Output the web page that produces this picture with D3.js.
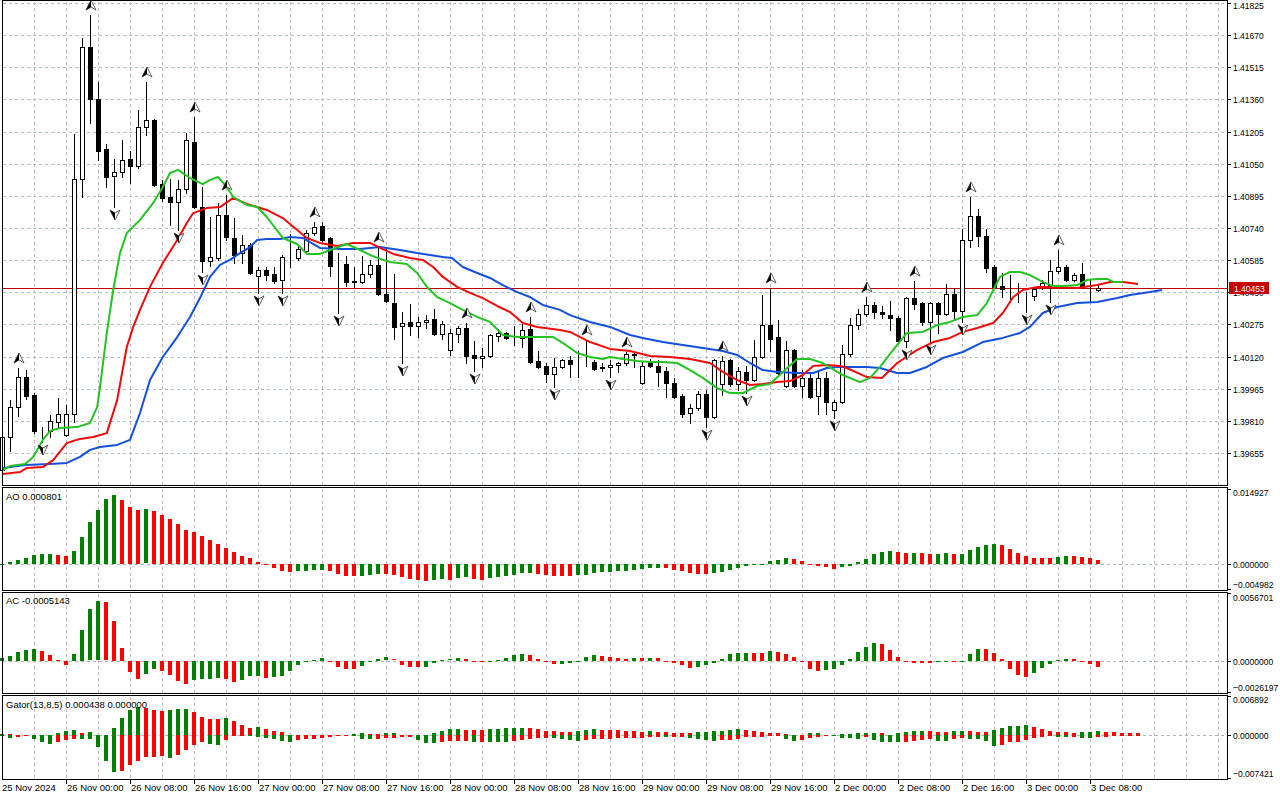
<!DOCTYPE html>
<html>
<head>
<meta charset="utf-8">
<script src="https://cdn.jsdelivr.net/npm/d3@7"></script>
<style>
  html, body { margin: 0; padding: 0; background: #fff; }
  svg { display: block; font-family: "Liberation Sans", Arial, sans-serif; }
</style>
</head>
<body>
<svg id="chart" width="1280" height="800"></svg>
<script>
/**
 * H1 candles with Alligator, fractals, AO, AC and Gator panels.
 * One bar per hour, 8px apart.
 */
const opens = [1.39573,1.39732,1.39877,1.40021,1.39935,1.39766,1.39761,1.39804,1.39742,1.39843,
  1.40976,1.41613,1.41362,1.41121,1.40991,1.41010,1.41073,1.41039,1.41227,1.41261,
  1.40952,1.40890,1.40865,1.40928,1.41155,1.40841,1.40581,1.40595,1.40803,1.40692,
  1.40619,1.40658,1.40509,1.40537,1.40518,1.40489,1.40600,1.40595,1.40629,1.40716,
  1.40750,1.40692,1.40562,1.40566,1.40484,1.40480,1.40518,1.40562,1.40422,1.40378,
  1.40267,1.40287,1.40267,1.40287,1.40301,1.40229,1.40152,1.40229,1.40258,1.40128,
  1.40113,1.40123,1.40219,1.40234,1.40219,1.40210,1.40253,1.40099,1.40075,1.40036,
  1.40070,1.40103,1.40089,1.40094,1.40094,1.40070,1.40070,1.40079,1.40089,1.40132,
  1.39993,1.40094,1.40075,1.40050,1.39993,1.39930,1.39848,1.39872,1.39940,1.39829,
  1.39988,1.40103,1.39988,1.40046,1.40007,1.40118,1.40272,1.40214,1.39978,1.40152,
  1.39978,1.40017,1.39930,1.40017,1.39862,1.39901,1.40132,1.40272,1.40325,1.40369,
  1.40335,1.40320,1.40306,1.40195,1.40402,1.40378,1.40287,1.40378,1.40325,1.40422,
  1.40340,1.40682,1.40798,1.40701,1.40552,1.40460,1.40451,1.40451,1.40383,1.40412,
  1.40456,1.40465,1.40533,1.40552,1.40489,1.40518,1.40456,1.40441];
const highs = [1.39732,1.39911,1.40065,1.40055,1.39944,1.39780,1.39838,1.39920,1.39886,1.41193,
  1.41656,1.41767,1.41444,1.41145,1.41073,1.41164,1.41111,1.41309,1.41444,1.41266,
  1.40972,1.40976,1.40972,1.41198,1.41275,1.40938,1.40793,1.40861,1.40899,1.40788,
  1.40706,1.40668,1.40552,1.40552,1.40552,1.40610,1.40711,1.40663,1.40730,1.40769,
  1.40769,1.40697,1.40619,1.40605,1.40552,1.40605,1.40586,1.40648,1.40644,1.40518,
  1.40335,1.40374,1.40311,1.40320,1.40349,1.40292,1.40253,1.40267,1.40282,1.40195,
  1.40161,1.40229,1.40253,1.40239,1.40267,1.40277,1.40311,1.40147,1.40089,1.40113,
  1.40108,1.40123,1.40147,1.40200,1.40103,1.40089,1.40103,1.40094,1.40142,1.40137,
  1.40094,1.40108,1.40103,1.40070,1.40017,1.39940,1.39891,1.39954,1.39959,1.40108,
  1.40123,1.40108,1.40070,1.40075,1.40200,1.40417,1.40451,1.40296,1.40195,1.40157,
  1.40055,1.40041,1.40055,1.40046,1.39911,1.40176,1.40306,1.40349,1.40407,1.40383,
  1.40364,1.40388,1.40316,1.40407,1.40484,1.40383,1.40383,1.40383,1.40470,1.40451,
  1.40735,1.40890,1.40832,1.40735,1.40562,1.40523,1.40513,1.40475,1.40431,1.40456,
  1.40489,1.40586,1.40634,1.40562,1.40523,1.40571,1.40489,1.40465];
const lows = [1.39534,1.39665,1.39833,1.39915,1.39751,1.39708,1.39732,1.39776,1.39737,1.39804,
  1.40890,1.41246,1.41068,1.40938,1.40841,1.40986,1.40957,1.41029,1.41188,1.40943,
  1.40870,1.40754,1.40730,1.40909,1.40836,1.40528,1.40557,1.40586,1.40682,1.40571,
  1.40571,1.40518,1.40427,1.40489,1.40475,1.40427,1.40552,1.40586,1.40624,1.40706,
  1.40677,1.40509,1.40330,1.40460,1.40456,1.40475,1.40504,1.40417,1.40383,1.40205,
  1.40089,1.40224,1.40214,1.40258,1.40224,1.40205,1.40128,1.40190,1.40089,1.40050,
  1.40070,1.40118,1.40195,1.40205,1.40176,1.40166,1.40089,1.40065,1.39997,1.39973,
  1.40065,1.40021,1.40021,1.40075,1.40055,1.40050,1.40021,1.40046,1.40079,1.40070,
  1.39988,1.40070,1.39978,1.39925,1.39920,1.39829,1.39800,1.39862,1.39780,1.39824,
  1.39935,1.39978,1.39959,1.39944,1.40002,1.40113,1.40147,1.40036,1.39973,1.39973,
  1.39925,1.39920,1.39843,1.39843,1.39824,1.39896,1.40123,1.40253,1.40316,1.40306,
  1.40306,1.40248,1.40190,1.40166,1.40349,1.40272,1.40190,1.40234,1.40320,1.40301,
  1.40287,1.40648,1.40653,1.40528,1.40451,1.40407,1.40383,1.40383,1.40335,1.40393,
  1.40446,1.40383,1.40523,1.40484,1.40484,1.40451,1.40383,1.40436];
const closes = [1.39732,1.39877,1.40021,1.39930,1.39761,1.39768,1.39809,1.39843,1.39843,1.40976,
  1.41613,1.41362,1.41111,1.40986,1.41010,1.41068,1.41039,1.41227,1.41261,1.40947,
  1.40885,1.40865,1.40928,1.41164,1.40841,1.40581,1.40600,1.40803,1.40697,1.40610,
  1.40658,1.40523,1.40537,1.40513,1.40484,1.40600,1.40602,1.40639,1.40716,1.40745,
  1.40682,1.40557,1.40560,1.40480,1.40482,1.40518,1.40562,1.40422,1.40388,1.40263,
  1.40282,1.40267,1.40287,1.40296,1.40229,1.40277,1.40234,1.40258,1.40123,1.40113,
  1.40123,1.40224,1.40234,1.40210,1.40221,1.40248,1.40094,1.40070,1.40036,1.40070,
  1.40103,1.40084,1.40091,1.40096,1.40060,1.40065,1.40079,1.40089,1.40132,1.40128,
  1.40075,1.40075,1.40046,1.39993,1.39925,1.39843,1.39872,1.39940,1.39829,1.40103,
  1.40099,1.39988,1.40050,1.40007,1.40118,1.40272,1.40205,1.40041,1.40152,1.39978,
  1.40017,1.39925,1.40017,1.39901,1.39901,1.40132,1.40272,1.40325,1.40369,1.40335,
  1.40325,1.40306,1.40195,1.40402,1.40374,1.40287,1.40378,1.40325,1.40422,1.40340,
  1.40682,1.40798,1.40701,1.40547,1.40456,1.40446,1.40449,1.40449,1.40381,1.40446,
  1.40475,1.40533,1.40552,1.40489,1.40513,1.40456,1.40454,1.40453];

// Alligator lines as [bar position, price]; they run past the last bar by their shift
const jaw = [[0.1,1.39583],[2.9,1.39597],[6,1.39602],[8.1,1.39607],[9.75,1.39636],[11,1.39670],
  [12.25,1.39684],[14.4,1.39694],[16,1.39718],[17.25,1.39848],[18.5,1.40007],[20.1,1.40118],
  [21.9,1.40214],[23.5,1.40311],[24.75,1.40402],[26,1.40504],[27.25,1.40562],[28.5,1.40586],
  [29.75,1.40619],[31,1.40648],[31.9,1.40682],[33.1,1.40687],[34.75,1.40687],[36,1.40697],
  [37.6,1.40692],[38.5,1.40672],[39.75,1.40644],[42.25,1.40639],[44.75,1.40639],[47.25,1.40648],
  [49.75,1.40634],[51.9,1.40619],[55.1,1.40600],[56.25,1.40595],[57.6,1.40552],[59.4,1.40523],
  [61,1.40499],[62.6,1.40465],[64.4,1.40431],[66,1.40407],[67.6,1.40369],[69.75,1.40345],
  [71,1.40320],[73.5,1.40287],[76,1.40263],[78.5,1.40224],[80.1,1.40210],[82.6,1.40190],
  [85.1,1.40176],[87.6,1.40161],[90.1,1.40147],[91.9,1.40128],[93.5,1.40089],[95.1,1.40055],
  [96.9,1.40046],[99.4,1.40041],[101.4,1.40041],[103.1,1.40065],[104.4,1.40070],[108.1,1.40070],
  [109.75,1.40065],[111.9,1.40041],[113.5,1.40041],[115.6,1.40070],[117.6,1.40113],[120.1,1.40142],
  [122.6,1.40190],[125.1,1.40210],[127.25,1.40234],[128.5,1.40263],[130.1,1.40330],[131.9,1.40359],
  [134.4,1.40378],[136.9,1.40383],[139.4,1.40402],[141,1.40417],[143.5,1.40431],[145,1.40441]];
const teeth = [[0.1,1.39554],[2.25,1.39563],[3.1,1.39583],[5.1,1.39587],[6.4,1.39621],[8.1,1.39703],
  [9.75,1.39723],[11.4,1.39732],[13.1,1.39751],[14.4,1.39911],[15.6,1.40166],[16.4,1.40263],
  [17.25,1.40345],[18.5,1.40456],[20.1,1.40571],[21.9,1.40682],[23.1,1.40764],[23.9,1.40812],
  [25.6,1.40836],[27.25,1.40841],[28.9,1.40885],[30.6,1.40856],[33.1,1.40827],[35.1,1.40788],
  [36.9,1.40730],[38.1,1.40692],[39.75,1.40668],[41.9,1.40653],[43.9,1.40668],[46,1.40668],
  [47.25,1.40644],[48.9,1.40615],[51,1.40595],[52.6,1.40586],[53.9,1.40552],[55.1,1.40504],
  [56.9,1.40456],[58.5,1.40427],[60.1,1.40402],[61.9,1.40364],[63.5,1.40335],[65.1,1.40282],
  [66.9,1.40263],[69.75,1.40248],[71,1.40239],[73.5,1.40190],[76,1.40157],[78.5,1.40147],
  [81,1.40123],[83.5,1.40118],[86,1.40108],[88.5,1.40089],[90.1,1.40046],[91.9,1.40007],
  [93.5,1.39983],[95.1,1.39988],[96.9,1.39997],[98.5,1.40002],[100.1,1.40031],[101.4,1.40075],
  [103.1,1.40079],[104.75,1.40075],[105.6,1.40065],[108.1,1.40021],[110,1.40017],[111.9,1.40089],
  [114.4,1.40152],[116.4,1.40190],[118.5,1.40210],[120.1,1.40239],[121.9,1.40258],[123.9,1.40282],
  [125.1,1.40330],[126.4,1.40407],[127.6,1.40441],[129.4,1.40456],[131.9,1.40456],[134.4,1.40451],
  [136.9,1.40465],[138.5,1.40480],[140.1,1.40480],[142,1.40470]];
const lips = [[0.1,1.39573],[1,1.39592],[2.9,1.39602],[3.9,1.39636],[5.1,1.39718],[6,1.39761],
  [7.25,1.39776],[9.4,1.39780],[11,1.39800],[11.9,1.39877],[12.25,1.39973],[13.1,1.40234],
  [13.9,1.40441],[14.75,1.40619],[15.6,1.40716],[17.25,1.40779],[18.9,1.40861],[20.1,1.40938],
  [21,1.41005],[22,1.41020],[23.5,1.40981],[25.1,1.40952],[26,1.40972],[27,1.40986],
  [28.1,1.40938],[28.9,1.40890],[30.6,1.40851],[31.9,1.40841],[33.1,1.40793],[35.1,1.40692],
  [36.9,1.40663],[38.1,1.40615],[39.75,1.40615],[41,1.40634],[43.1,1.40663],[44.75,1.40634],
  [46,1.40610],[47.25,1.40591],[48.5,1.40576],[50.6,1.40566],[51.9,1.40523],[53.1,1.40456],
  [54.4,1.40407],[56,1.40378],[57.6,1.40345],[59.4,1.40311],[61,1.40287],[62.6,1.40224],
  [64.4,1.40214],[66.9,1.40214],[68.9,1.40214],[70.1,1.40186],[71.9,1.40137],[73.5,1.40118],
  [75.1,1.40108],[76,1.40118],[77.6,1.40108],[79.4,1.40099],[81,1.40094],[82.6,1.40094],
  [84.4,1.40089],[86,1.40055],[87.6,1.40017],[89.4,1.39968],[91,1.39944],[92.6,1.39944],
  [94.4,1.39978],[96,1.39988],[97.6,1.40046],[99.4,1.40108],[101,1.40108],[102.6,1.40089],
  [104.4,1.40046],[105.1,1.40031],[107.25,1.39997],[108.5,1.40017],[109.75,1.40070],[111.4,1.40152],
  [113.1,1.40234],[115.1,1.40239],[116.9,1.40272],[118.5,1.40287],[120.1,1.40311],[121.9,1.40320],
  [123.1,1.40378],[123.9,1.40441],[124.75,1.40504],[126,1.40528],[127.25,1.40528],[128.5,1.40513],
  [130.1,1.40480],[131.4,1.40460],[132.6,1.40460],[134.4,1.40465],[135.6,1.40489],[136.9,1.40494],
  [138.25,1.40494],[138.9,1.40480],[140.1,1.40480]];

const upFractals = [2, 11, 18, 24, 28, 39, 47, 58, 66, 73, 78, 90, 96, 108, 114, 121, 132];
const downFractals = [5, 14, 22, 25, 32, 35, 42, 50, 59, 69, 76, 88, 93, 104, 113, 116, 120, 128, 131];

const aoValues = [0.00004,0.00033,0.00086,0.00126,0.00186,0.00206,0.00207,0.00186,0.00166,0.00265,
  0.00544,0.00843,0.01082,0.01301,0.01367,0.01281,0.01142,0.01082,0.01085,0.01062,
  0.00982,0.00903,0.00803,0.00684,0.00631,0.00564,0.00484,0.00405,0.00325,0.00232,
  0.00166,0.00126,0.00046,-0.00027,-0.00086,-0.00146,-0.00150,-0.00145,-0.00143,-0.00126,
  -0.00113,-0.00146,-0.00192,-0.00232,-0.00246,-0.00244,-0.00212,-0.00200,-0.00205,-0.00213,
  -0.00252,-0.00292,-0.00312,-0.00332,-0.00312,-0.00305,-0.00312,-0.00285,-0.00266,-0.00292,
  -0.00312,-0.00285,-0.00266,-0.00246,-0.00226,-0.00186,-0.00173,-0.00206,-0.00212,-0.00232,
  -0.00246,-0.00248,-0.00226,-0.00212,-0.00179,-0.00153,-0.00150,-0.00133,-0.00131,-0.00113,
  -0.00093,-0.00073,-0.00071,-0.00086,-0.00113,-0.00133,-0.00173,-0.00192,-0.00199,-0.00186,
  -0.00166,-0.00113,-0.00080,-0.00040,-0.00020,-0.00007,0.00066,0.00086,0.00126,0.00106,
  0.00066,-0.00005,-0.00033,-0.00053,-0.00093,-0.00066,-0.00033,0.00040,0.00106,0.00206,
  0.00246,0.00266,0.00246,0.00226,0.00228,0.00225,0.00206,0.00208,0.00226,0.00206,
  0.00208,0.00285,0.00345,0.00385,0.00405,0.00385,0.00305,0.00226,0.00166,0.00126,
  0.00124,0.00122,0.00146,0.00166,0.00163,0.00146,0.00126,0.00080];
const acValues = [0.00022,0.00041,0.00075,0.00091,0.00099,0.00083,0.00050,0.00008,-0.00033,0.00058,
  0.00257,0.00431,0.00497,0.00489,0.00332,0.00108,-0.00091,-0.00149,-0.00108,-0.00066,
  -0.00083,-0.00116,-0.00166,-0.00191,-0.00157,-0.00149,-0.00147,-0.00141,-0.00149,-0.00174,
  -0.00157,-0.00124,-0.00122,-0.00141,-0.00133,-0.00124,-0.00083,-0.00033,-0.00006,0.00008,
  0.00025,-0.00006,-0.00047,-0.00066,-0.00068,-0.00041,-0.00011,0.00017,0.00028,0.00011,
  -0.00033,-0.00050,-0.00052,-0.00047,-0.00019,0.00008,0.00011,0.00025,0.00017,-0.00001,
  -0.00005,-0.00002,0.00008,0.00025,0.00050,0.00058,0.00050,0.00017,-0.00011,-0.00028,
  -0.00022,-0.00019,-0.00003,0.00033,0.00050,0.00041,0.00033,0.00025,0.00017,0.00025,
  0.00024,0.00026,0.00025,-0.00006,-0.00017,-0.00033,-0.00055,-0.00047,-0.00033,-0.00017,
  0.00017,0.00058,0.00064,0.00066,0.00065,0.00064,0.00083,0.00075,0.00058,0.00033,
  -0.00008,-0.00066,-0.00083,-0.00075,-0.00066,-0.00033,0.00017,0.00075,0.00116,0.00149,
  0.00141,0.00091,0.00033,-0.00006,-0.00014,-0.00015,-0.00016,-0.00006,0.00000,-0.00011,
  0.00001,0.00058,0.00099,0.00098,0.00066,0.00017,-0.00064,-0.00116,-0.00133,-0.00099,
  -0.00058,-0.00025,0.00008,0.00017,0.00016,-0.00003,-0.00025,-0.00051];
const gatorUpper = [0.00029,0.00023,0.00017,0.00006,0.00003,0.00006,0.00012,0.00046,0.00086,0.00092,
  0.00046,0.00058,0.00002,0.00003,0.00138,0.00311,0.00449,0.00495,0.00483,0.00449,
  0.00431,0.00449,0.00460,0.00466,0.00414,0.00328,0.00293,0.00288,0.00299,0.00253,
  0.00184,0.00138,0.00144,0.00121,0.00086,0.00069,0.00017,0.00001,0.00003,0.00006,
  0.00009,0.00012,0.00014,0.00017,0.00020,0.00035,0.00029,0.00023,0.00035,0.00037,
  0.00017,0.00016,0.00015,0.00001,0.00052,0.00086,0.00109,0.00121,0.00104,0.00103,
  0.00102,0.00115,0.00121,0.00122,0.00123,0.00138,0.00137,0.00121,0.00086,0.00085,
  0.00069,0.00068,0.00086,0.00104,0.00121,0.00104,0.00103,0.00102,0.00086,0.00085,
  0.00069,0.00086,0.00069,0.00068,0.00052,0.00051,0.00050,0.00063,0.00069,0.00086,
  0.00087,0.00104,0.00105,0.00103,0.00086,0.00069,0.00052,0.00035,0.00034,0.00012,
  0.00006,0.00035,0.00036,0.00017,0.00003,0.00023,0.00026,0.00035,0.00036,0.00052,
  0.00035,0.00017,0.00035,0.00069,0.00086,0.00087,0.00085,0.00069,0.00068,0.00086,
  0.00087,0.00085,0.00069,0.00068,0.00104,0.00138,0.00173,0.00174,0.00190,0.00155,
  0.00121,0.00086,0.00069,0.00068,0.00052,0.00053,0.00069,0.00070,0.00066,0.00062,
  0.00048,0.00046,0.00044];
const gatorLower = [-0.00017,-0.00046,-0.00029,-0.00006,-0.00069,-0.00115,-0.00155,-0.00115,-0.00081,-0.00063,
  -0.00066,-0.00069,-0.00207,-0.00460,-0.00638,-0.00621,-0.00518,-0.00460,-0.00391,-0.00380,
  -0.00362,-0.00397,-0.00345,-0.00259,-0.00173,-0.00121,-0.00155,-0.00173,-0.00086,-0.00017,
  -0.00012,-0.00017,-0.00029,-0.00058,-0.00069,-0.00098,-0.00121,-0.00086,-0.00069,-0.00063,
  -0.00046,-0.00029,-0.00012,-0.00006,-0.00012,-0.00063,-0.00064,-0.00062,-0.00052,-0.00046,
  -0.00040,-0.00039,-0.00086,-0.00132,-0.00133,-0.00115,-0.00109,-0.00098,-0.00097,-0.00121,
  -0.00115,-0.00121,-0.00122,-0.00123,-0.00098,-0.00086,-0.00069,-0.00052,-0.00046,-0.00052,
  -0.00069,-0.00086,-0.00104,-0.00086,-0.00069,-0.00068,-0.00067,-0.00052,-0.00051,-0.00050,
  -0.00049,-0.00035,-0.00029,-0.00030,-0.00029,-0.00028,-0.00052,-0.00069,-0.00086,-0.00104,
  -0.00086,-0.00085,-0.00069,-0.00040,-0.00029,-0.00028,-0.00012,-0.00003,-0.00069,-0.00098,
  -0.00081,-0.00046,-0.00029,-0.00012,-0.00017,-0.00046,-0.00047,-0.00069,-0.00029,-0.00086,
  -0.00115,-0.00121,-0.00122,-0.00120,-0.00104,-0.00086,-0.00069,-0.00104,-0.00105,-0.00069,
  -0.00052,-0.00069,-0.00070,-0.00104,-0.00190,-0.00173,-0.00121,-0.00120,-0.00086,-0.00052,
  -0.00029,-0.00017,-0.00029,-0.00030,-0.00029,-0.00052,-0.00053,-0.00029,-0.00028];

const priceTicks = [1.41825,1.41670,1.41515,1.41360,1.41205,1.41050,1.40895,1.40740,
  1.40585,1.40430,1.40275,1.40120,1.39965,1.39810,1.39655];
const lastPrice = 1.40453;
const aoTicks = [0.014927, 0, -0.004982];
const acTicks = [0.0056701, 0, -0.0026197];
const gatorTicks = [0.006892, 0, -0.007421];
const timeTickBars = [0, 8, 16, 24, 32, 40, 48, 56, 64, 72, 80, 88, 96, 104, 112, 120, 128, 136];
const timeTickLabels = ["25 Nov 2024", "26 Nov 00:00", "26 Nov 08:00", "26 Nov 16:00",
  "27 Nov 00:00", "27 Nov 08:00", "27 Nov 16:00", "28 Nov 00:00", "28 Nov 08:00",
  "28 Nov 16:00", "29 Nov 00:00", "29 Nov 08:00", "29 Nov 16:00", "2 Dec 00:00",
  "2 Dec 08:00", "2 Dec 16:00", "3 Dec 00:00", "3 Dec 08:00"];

const GREEN = "#008000";
const RED = "#ff0000";
const AXIS_X = 1227;
const FONT = 9.5;

const svg = d3.select("#chart");
svg.append("rect").attr("width", 1280).attr("height", 800).attr("fill", "#fff");

const x = d3.scaleLinear().domain([0, 100]).range([2, 802]);
const barX = (i) => Math.round(x(i));

const yMain = d3.scaleLinear().domain([1.39655, 1.41825]).range([453, 3]);
const yAO = d3.scaleLinear().domain([-0.004982, 0.014927]).range([589, 489]);
const yAC = d3.scaleLinear().domain([-0.0026197, 0.0056701]).range([692, 593]);
const yGator = d3.scaleLinear().domain([-0.007421, 0.006892]).range([778, 696]);

const panels = [
  { top: 0.5, bottom: 485.5 },
  { top: 487.5, bottom: 590.5, y: yAO },
  { top: 592.5, bottom: 693.5, y: yAC },
  { top: 695.5, bottom: 779.5, y: yGator },
];

// dotted grid: a vertical line every 4 bars through all panels
const gridBars = d3.range(4, 153, 4);
const grid = svg.append("g").attr("shape-rendering", "crispEdges");
panels.forEach((p) => {
  grid.append("g").selectAll("line").data(gridBars).join("line")
    .attr("x1", (i) => barX(i) + 0.5).attr("x2", (i) => barX(i) + 0.5)
    .attr("y1", p.top + 1).attr("y2", p.bottom)
    .attr("stroke", "#c6b2c8").attr("stroke-dasharray", "3,3");
  if (p.y) {
    const zy = Math.round(p.y(0)) + 0.5;
    grid.append("line").attr("x1", 3).attr("x2", AXIS_X).attr("y1", zy).attr("y2", zy)
      .attr("stroke", "#a9b6bb").attr("stroke-dasharray", "3,3");
  }
});
grid.append("g").selectAll("line").data(priceTicks).join("line")
  .attr("x1", 3).attr("x2", AXIS_X)
  .attr("y1", (d) => Math.round(yMain(d)) + 0.5).attr("y2", (d) => Math.round(yMain(d)) + 0.5)
  .attr("stroke", "#adbfae").attr("stroke-dasharray", "3,3");

// last price line
const lastY = Math.round(yMain(lastPrice)) + 0.5;
svg.append("line").attr("x1", 2).attr("x2", AXIS_X).attr("y1", lastY).attr("y2", lastY)
  .attr("stroke", "#c00000").attr("shape-rendering", "crispEdges");

// candles
const bars = opens.map((o, i) => ({ i, o, h: highs[i], l: lows[i], c: closes[i] }));
const candle = svg.append("g").attr("shape-rendering", "crispEdges")
  .selectAll("g").data(bars).join("g");
candle.append("line")
  .attr("x1", (d) => barX(d.i) + 0.5).attr("x2", (d) => barX(d.i) + 0.5)
  .attr("y1", (d) => Math.round(yMain(d.h))).attr("y2", (d) => Math.round(yMain(d.l)) + 1)
  .attr("stroke", "#000");
candle.append("rect")
  .attr("x", (d) => barX(d.i) - 1.5)
  .attr("y", (d) => Math.round(yMain(Math.max(d.o, d.c))) + 0.5)
  .attr("width", 4)
  .attr("height", (d) => Math.max(0, Math.round(yMain(Math.min(d.o, d.c))) - Math.round(yMain(Math.max(d.o, d.c)))))
  .attr("fill", (d) => (d.c >= d.o ? "#fff" : "#000"))
  .attr("stroke", "#000");

// alligator
const line = d3.line().x((d) => x(d[0])).y((d) => yMain(d[1]));
[[jaw, "#1450dc"], [teeth, "#ee0c0c"], [lips, "#25c425"]].forEach(([data, color]) => {
  svg.append("path").datum(data).attr("d", line)
    .attr("fill", "none").attr("stroke", color).attr("stroke-width", 2)
    .attr("stroke-linejoin", "round");
});

// fractal arrows
function arrow(g, up) {
  const s = up ? 1 : -1;
  g.append("path").attr("d", `M0,${-5 * s} L5,${5 * s} L0,${2 * s} L-5,${5 * s} Z`)
    .attr("fill", "#fff").attr("stroke", "#333").attr("stroke-width", 0.8);
  g.append("path").attr("d", `M0,${-5 * s} L0,${2 * s} L-5,${5 * s} Z`).attr("fill", "#000");
}
svg.append("g").selectAll("g").data(upFractals).join("g")
  .attr("transform", (i) => `translate(${barX(i) + 1},${yMain(highs[i]) - 10})`)
  .each(function () { arrow(d3.select(this), true); });
svg.append("g").selectAll("g").data(downFractals).join("g")
  .attr("transform", (i) => `translate(${barX(i) + 1},${yMain(lows[i]) + 8})`)
  .each(function () { arrow(d3.select(this), false); });

// histograms: colour follows rise/fall against previous bar
function histogram(values, y, isUp) {
  const z = y(0);
  svg.append("g").attr("shape-rendering", "crispEdges")
    .selectAll("rect").data(values).join("rect")
    .attr("x", (d, i) => barX(i) - 2)
    .attr("width", 4)
    .attr("y", (d) => Math.round(Math.min(y(d), z)))
    .attr("height", (d) => Math.max(1, Math.round(Math.abs(y(d) - z))))
    .attr("fill", (d, i) => (isUp(d, i) ? GREEN : RED));
}
histogram(aoValues, yAO, (d, i) => i === 0 || d >= aoValues[i - 1]);
histogram(acValues, yAC, (d, i) => i === 0 || d >= acValues[i - 1]);
histogram(gatorUpper, yGator, (d, i) => i === 0 || d >= gatorUpper[i - 1]);
histogram(gatorLower, yGator, (d, i) => i === 0 || d <= gatorLower[i - 1]);

// panel frames
const frames = svg.append("g").attr("fill", "none").attr("stroke", "#000");
panels.forEach((p) => {
  frames.append("rect").attr("x", 2.5).attr("y", p.top)
    .attr("width", AXIS_X - 2).attr("height", p.bottom - p.top);
});

// right price axis; labels squeezed a little to the terminal's narrow digits
const axis = svg.append("g").attr("font-size", FONT).attr("fill", "#000");
function axisLabel(tx, ty, str, fill) {
  axis.append("text").attr("transform", `translate(${tx},${ty}) scale(0.9,1)`)
    .attr("dy", "0.35em").attr("fill", fill || "#000").text(str);
}
function rightTicks(ticks, y, fmt, top, bottom, pad) {
  ticks.forEach((v) => {
    const ty = Math.round(y(v)) + 0.5;
    axis.append("line").attr("x1", AXIS_X).attr("x2", AXIS_X + 4).attr("y1", ty).attr("y2", ty)
      .attr("stroke", "#000").attr("shape-rendering", "crispEdges");
    const ly = Math.max(top + pad, Math.min(bottom - pad, ty));
    axisLabel(AXIS_X + 6, ly, fmt(v));
  });
}
rightTicks(priceTicks, yMain, d3.format(".5f"), 0, 486, 6);
rightTicks(aoTicks, yAO, d3.format(".6f"), 488, 590, 5);
rightTicks(acTicks, yAC, d3.format(".7f"), 593, 693, 5);
rightTicks(gatorTicks, yGator, d3.format(".6f"), 695, 779, 5);

// last price tag
axis.append("rect").attr("x", 1229).attr("y", lastY - 6.5).attr("width", 40).attr("height", 12)
  .attr("fill", "#c80000");
axisLabel(AXIS_X + 7, lastY, d3.format(".5f")(lastPrice), "#fff");

// time axis
timeTickBars.forEach((b, k) => {
  const tx = barX(b);
  if (k > 0) {
    axis.append("line").attr("x1", tx + 0.5).attr("x2", tx + 0.5).attr("y1", 779).attr("y2", 784)
      .attr("stroke", "#000").attr("shape-rendering", "crispEdges");
  }
  axis.append("text").attr("x", tx + (k > 0 ? 1 : 0)).attr("y", 791).text(timeTickLabels[k]);
});

// indicator captions
axis.append("text").attr("x", 6).attr("y", 500).text("AO 0.000801");
axis.append("text").attr("x", 6).attr("y", 604).text("AC -0.0005143");
axis.append("text").attr("x", 6).attr("y", 708).text("Gator(13,8,5) 0.000438 0.000000");
</script>
</body>
</html>
